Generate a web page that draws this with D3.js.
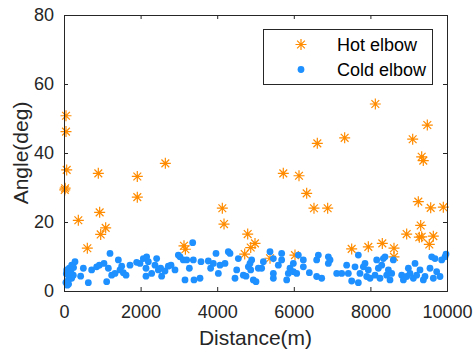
<!DOCTYPE html>
<html>
<head>
<meta charset="utf-8">
<script src="https://cdn.jsdelivr.net/npm/d3@7"></script>
<style>
  body { margin: 0; background: #fff; }
  svg { display: block; font-family: "Liberation Sans", Arial, sans-serif; }
</style>
</head>
<body>
<div id="chart"></div>
<script>
// axis ranges and tick labels
const xTicks = [0, 2000, 4000, 6000, 8000, 10000];
const yTicks = [0, 20, 40, 60, 80];
const seriesNames = ["Hot elbow", "Cold elbow"];

// hot elbow points (distance m, angle deg)
const hotDistance = [52, 52, 70, 30, 20, 374, 609, 896, 931, 958, 1088, 1914, 1914, 2646, 3133, 3170,
  4134, 4178, 4718, 4796, 4875, 4987, 5379, 5726, 6031, 6136, 6336, 6527, 6614, 6884, 7328, 7511,
  7946, 8129, 8311, 8616, 8616, 8947, 9104, 9251, 9277, 9313, 9339, 9339, 9381, 9486, 9538, 9574, 9643, 9904];
const hotAngle = [50.8, 46.2, 35.1, 29.8, 29.3, 20.5, 12.4, 34.1, 22.8, 16.4, 18.3, 33.2, 27.2, 37.0, 13.1, 12.1,
  24.0, 19.4, 10.7, 16.5, 12.6, 13.8, 9.5, 34.1, 10.4, 33.4, 28.3, 24.0, 42.8, 24.0, 44.4, 12.2,
  12.8, 54.2, 13.8, 12.4, 9.9, 16.5, 44.0, 25.9, 15.6, 19.0, 15.7, 38.9, 37.8, 48.1, 13.5, 24.1, 15.9, 24.3];

// cold elbow points
const coldDistance = [87, 113, 157, 200, 70, 139, 244, 287, 200, 60, 100, 120, 180, 50, 250, 505, 435, 635,
  722, 853, 923, 1044, 1114, 1201, 1158, 1245, 1332, 1419, 1462, 1506, 1549, 1619, 1723, 1897, 1984,
  2071, 2158, 2141, 2141, 2202, 2289, 2376, 2419, 2463, 2524, 2550, 2637, 2724, 2794, 2898, 2985,
  3029, 3116, 3159, 3203, 3273, 3377, 3360, 3394, 3551, 3577, 3768, 3829, 3899, 3969, 4030, 4073,
  4204, 4290, 4334, 4465, 4509, 4552, 4682, 4752, 4813, 4856, 4874, 4900, 4943, 5013, 5074,
  5161, 5205, 5379, 5466, 5466, 5466, 5596, 5683, 5683, 5814, 5857, 5901, 5988, 5988, 6119, 6075,
  6249, 6249, 6406, 6597, 6641, 6597, 6728, 6902, 6902, 6946, 7120, 7250, 7380, 7424, 7511, 7598,
  7685, 7685, 7728, 7815, 7859, 7903, 7946, 7990, 8121, 8164, 8208, 8251, 8295, 8338, 8382, 8425,
  8469, 8512, 8556, 8599, 8817, 8861, 8948, 8991, 9034, 9121, 9165, 9208, 9295, 9382, 9426, 9556,
  9600, 9643, 9687, 9730, 9817, 9861, 9948, 9974];
const coldAngle = [1.7, 3.2, 4.2, 3.7, 6.1, 6.6, 4.6, 8.5, 7.5, 5.0, 4.8, 2.0, 5.5, 2.5, 6.8, 6.6, 4.3, 2.4,
  6.1, 7.0, 7.5, 8.0, 2.7, 10.9, 6.6, 4.6, 5.1, 9.0, 6.1, 7.2, 5.3, 4.6, 7.5, 8.3, 8.0,
  9.4, 9.9, 6.6, 4.3, 8.5, 5.1, 7.5, 9.4, 6.1, 6.6, 4.3, 5.8, 7.2, 7.5, 6.1, 10.4,
  9.9, 9.0, 3.2, 9.0, 6.6, 9.0, 14.0, 3.2, 3.7, 8.5, 8.7, 6.6, 8.0, 10.9, 5.1, 7.5,
  8.0, 11.4, 10.9, 3.7, 6.1, 9.4, 4.6, 4.3, 7.0, 8.0, 6.1, 9.0, 3.2, 2.7, 6.6,
  6.6, 8.5, 11.4, 9.4, 5.1, 3.7, 7.5, 10.9, 9.0, 3.2, 5.1, 6.6, 8.0, 5.6, 10.4, 5.1,
  9.0, 7.0, 5.3, 4.2, 10.4, 9.0, 3.7, 9.9, 8.0, 9.0, 5.1, 5.1, 7.5, 5.1, 2.9, 7.0,
  10.4, 2.4, 5.1, 7.0, 8.0, 4.2, 6.1, 3.7, 4.6, 9.0, 6.6, 3.7, 7.5, 9.4, 9.9, 4.6,
  6.1, 3.2, 5.1, 9.0, 4.6, 3.2, 4.2, 6.6, 5.1, 3.7, 8.0, 4.6, 6.1, 3.2, 4.2, 6.6,
  9.9, 3.7, 9.4, 5.6, 4.2, 9.0, 9.9, 10.7];

const width = 475, height = 353;
const margin = { top: 15, right: 28, bottom: 62, left: 64 };
const hotColor = "#ff8c00", coldColor = "#1e90ff", axisColor = "#262626";

const svg = d3.select("#chart").append("svg")
  .attr("width", width)
  .attr("height", height);

const x = d3.scaleLinear().domain([0, 10000]).range([margin.left, width - margin.right]);
const y = d3.scaleLinear().domain([0, 80]).range([height - margin.bottom, margin.top]);

// star marker, like matlab '*'
function star(g, r) {
  const d = r * 0.7071;
  g.append("path")
    .attr("d", `M${-r},0H${r}M0,${-r}V${r}M${-d},${-d}L${d},${d}M${-d},${d}L${d},${-d}`)
    .attr("stroke", hotColor)
    .attr("stroke-width", 1.2)
    .attr("fill", "none");
}

const hot = hotDistance.map((d, i) => ({ x: d, y: hotAngle[i] }));
const cold = coldDistance.map((d, i) => ({ x: d, y: coldAngle[i] }));

const plot = svg.append("g");

plot.selectAll("g.hot")
  .data(hot)
  .enter()
  .append("g")
  .attr("class", "hot")
  .attr("transform", d => `translate(${x(d.x)},${y(d.y)})`)
  .each(function () { star(d3.select(this), 5.5); });

plot.selectAll("circle.cold")
  .data(cold)
  .enter()
  .append("circle")
  .attr("class", "cold")
  .attr("cx", d => x(d.x))
  .attr("cy", d => y(d.y))
  .attr("r", 3.4)
  .attr("fill", coldColor);

// axes, ticks inward on all four sides
const tickLen = 4;
const xAxis = d3.axisBottom(x).tickValues(xTicks).tickSize(-tickLen).tickPadding(14).tickFormat(d3.format("d"));
const yAxis = d3.axisLeft(y).tickValues(yTicks).tickSize(-tickLen).tickPadding(10);

const gx = svg.append("g").attr("transform", `translate(0,${y(0)})`).call(xAxis);
const gy = svg.append("g").attr("transform", `translate(${x(0)},0)`).call(yAxis);
const gxTop = svg.append("g").attr("transform", `translate(0,${y(80)})`)
  .call(d3.axisTop(x).tickValues(xTicks).tickSize(-tickLen).tickFormat(""));
const gyRight = svg.append("g").attr("transform", `translate(${x(10000)},0)`)
  .call(d3.axisRight(y).tickValues(yTicks).tickSize(-tickLen).tickFormat(""));

[gx, gy, gxTop, gyRight].forEach(g => {
  g.selectAll("path").attr("stroke", axisColor).attr("stroke-width", 1);
  g.selectAll("line").attr("stroke", axisColor);
  g.selectAll("text").attr("fill", axisColor)
    .style("font-size", "18px")
    .style("font-family", "Liberation Sans, Arial, sans-serif");
});

svg.append("text")
  .attr("x", (x(0) + x(10000)) / 2)
  .attr("y", 345)
  .attr("text-anchor", "middle")
  .attr("fill", axisColor)
  .style("font-size", "21px")
  .text("Distance(m)");

svg.append("text")
  .attr("transform", `translate(28,${(y(0) + y(80)) / 2}) rotate(-90)`)
  .attr("text-anchor", "middle")
  .attr("fill", axisColor)
  .style("font-size", "21px")
  .text("Angle(deg)");

// legend
const legend = svg.append("g");
legend.append("rect")
  .attr("x", 263.5).attr("y", 29.5)
  .attr("width", 169).attr("height", 55)
  .attr("fill", "#fff")
  .attr("stroke", axisColor)
  .attr("stroke-width", 1);

legend.append("g").attr("transform", "translate(301,44.5)").call(g => star(g, 5.5));
legend.append("circle").attr("cx", 301).attr("cy", 69.5).attr("r", 3.4).attr("fill", coldColor);

legend.selectAll("text")
  .data(seriesNames)
  .enter()
  .append("text")
  .attr("x", 337)
  .attr("y", (d, i) => 51 + i * 25)
  .attr("fill", "#000")
  .style("font-size", "18px")
  .text(d => d);
</script>
</body>
</html>
